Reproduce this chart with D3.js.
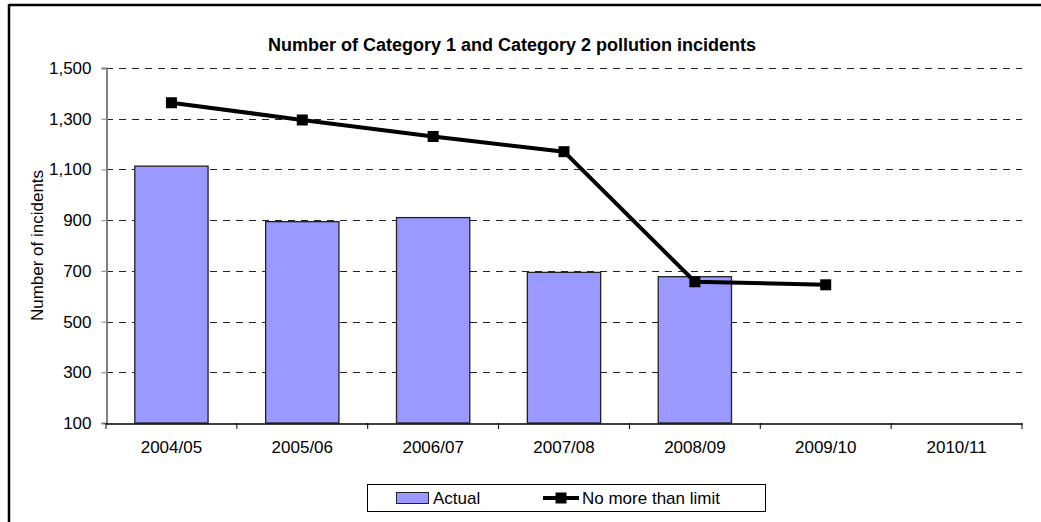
<!DOCTYPE html>
<html>
<head>
<meta charset="utf-8">
<script src="https://d3js.org/d3.v7.min.js"></script>
<style>
  body { margin: 0; background: white; }
  text { font-family: "Liberation Sans", Arial, sans-serif; }
</style>
</head>
<body>
<svg id="chart" width="1041" height="522"></svg>
<script>
// data
var years = ["2004/05", "2005/06", "2006/07", "2007/08", "2008/09", "2009/10", "2010/11"];
var actual = [1113, 894, 910, 694, 677];
var limit = [1363, 1295, 1230, 1170, 657, 645];
var yTicks = [100, 300, 500, 700, 900, 1100, 1300, 1500];

var svg = d3.select("#chart");
var plotLeft = 106, plotRight = 1022, plotTop = 68, plotBottom = 423;

var x = d3.scaleBand().domain(years).range([plotLeft, plotRight]);
var y = d3.scaleLinear().domain([100, 1500]).range([plotBottom, plotTop]);

// outer frame (only top and left edges show)
svg.append("line").attr("x1", 9).attr("y1", 5).attr("x2", 1041).attr("y2", 5)
  .style("stroke", "black").style("stroke-width", 2.5);
svg.append("line").attr("x1", 9).attr("y1", 4).attr("x2", 9).attr("y2", 522)
  .style("stroke", "black").style("stroke-width", 2.5);

// title
svg.append("text").text("Number of Category 1 and Category 2 pollution incidents")
  .attr("x", 512).attr("y", 51)
  .attr("text-anchor", "middle")
  .style("font-weight", "bold").style("font-size", "18px");

// gridlines
svg.append("g").selectAll("line").data(yTicks.slice(1)).join("line")
  .attr("x1", plotLeft).attr("x2", plotRight)
  .attr("y1", function(d) { return Math.round(y(d)) + 0.5; })
  .attr("y2", function(d) { return Math.round(y(d)) + 0.5; })
  .style("stroke", "#222").style("stroke-width", 1)
  .style("stroke-dasharray", "7,6");

// y axis
var yAxis = svg.append("g").attr("transform", "translate(" + (plotLeft + 0.5) + ",0)")
  .call(d3.axisLeft(y).tickValues(yTicks).tickFormat(d3.format(",")).tickSize(5).tickPadding(10));
yAxis.select(".domain").style("stroke", "#808080").style("stroke-width", 2);
yAxis.selectAll(".tick line").style("stroke", "#808080");
yAxis.selectAll("text").style("font-size", "17px").style("fill", "black")
  .style("font-family", "'Liberation Sans', Arial, sans-serif");

svg.append("text").text("Number of incidents")
  .attr("transform", "translate(43," + ((plotTop + plotBottom) / 2) + ") rotate(-90)")
  .attr("text-anchor", "middle").style("font-size", "17px");

// bars
svg.append("g").selectAll("rect").data(actual).join("rect")
  .attr("x", function(d, i) { return x(years[i]) + x.bandwidth() * 0.22; })
  .attr("width", x.bandwidth() * 0.56)
  .attr("y", function(d) { return y(d); })
  .attr("height", function(d) { return y(100) - y(d); })
  .style("fill", "#9999FF").style("stroke", "#222").style("stroke-width", 1.3);

// x axis
var xAxis = svg.append("g").attr("transform", "translate(0," + (plotBottom + 0.5) + ")")
  .call(d3.axisBottom(x).tickSize(0).tickPadding(17));
xAxis.select(".domain").style("stroke", "black").style("stroke-width", 1.5);
xAxis.selectAll("text").style("font-size", "17px").style("fill", "black")
  .style("font-family", "'Liberation Sans', Arial, sans-serif");
svg.append("g").selectAll("line").data(d3.range(years.length + 1)).join("line")
  .attr("x1", function(i) { return plotLeft + i * x.step(); })
  .attr("x2", function(i) { return plotLeft + i * x.step(); })
  .attr("y1", plotBottom).attr("y2", plotBottom + 6)
  .style("stroke", "black").style("stroke-width", 1);

// limit line
var line = d3.line()
  .x(function(d, i) { return x(years[i]) + x.bandwidth() / 2; })
  .y(function(d) { return y(d); });
svg.append("path").datum(limit).attr("d", line)
  .style("fill", "none").style("stroke", "black").style("stroke-width", 4);
svg.append("g").selectAll("rect").data(limit).join("rect")
  .attr("x", function(d, i) { return x(years[i]) + x.bandwidth() / 2 - 5.5; })
  .attr("y", function(d) { return y(d) - 5.5; })
  .attr("width", 11).attr("height", 11)
  .style("fill", "black");

// legend
var lg = svg.append("g");
lg.append("rect").attr("x", 367.5).attr("y", 484.5).attr("width", 398).attr("height", 27)
  .style("fill", "white").style("stroke", "black").style("stroke-width", 1);
lg.append("rect").attr("x", 396.5).attr("y", 492.5).attr("width", 32).attr("height", 11)
  .style("fill", "#9999FF").style("stroke", "#222").style("stroke-width", 1);
lg.append("text").text("Actual").attr("x", 433).attr("y", 504).style("font-size", "17px");
lg.append("line").attr("x1", 543).attr("x2", 579).attr("y1", 498).attr("y2", 498)
  .style("stroke", "black").style("stroke-width", 4);
lg.append("rect").attr("x", 555.5).attr("y", 492.5).attr("width", 11).attr("height", 11)
  .style("fill", "black");
lg.append("text").text("No more than limit").attr("x", 582).attr("y", 504).style("font-size", "17px");
</script>
</body>
</html>
